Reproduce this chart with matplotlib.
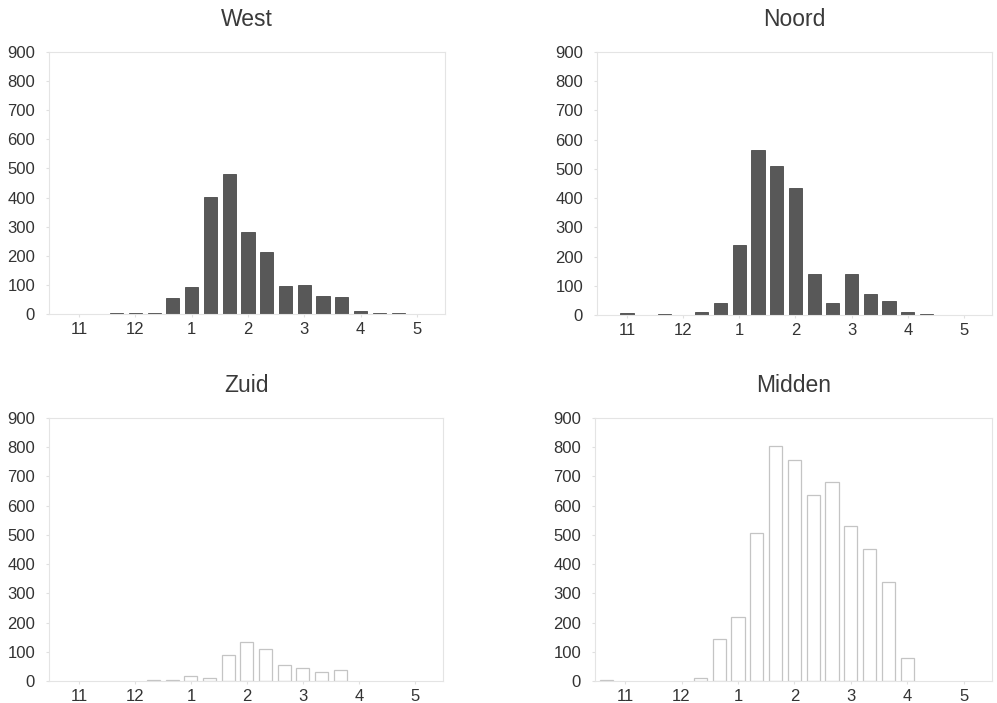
import numpy as np
import matplotlib
matplotlib.use("Agg")
import matplotlib.pyplot as plt

plt.rcParams['font.family'] = ['Liberation Sans', 'DejaVu Sans']

# decade index: 0 = first decade of november, 3 = december, ... 18 = may
decades = np.arange(-1, 19)
month_ticks = [0, 3, 6, 9, 12, 15, 18]
month_labels = ['11', '12', '1', '2', '3', '4', '5']

west = [0, 0, 0, 2, 4, 4, 55, 93, 403, 482, 280, 214, 97, 100, 62, 59, 11, 2, 2, 0]
noord = [0, 8, 0, 2, 0, 9, 40, 240, 566, 509, 433, 142, 42, 139, 71, 49, 9, 3, 0, 0]
zuid = [0, 0, 0, 0, 0, 2, 4, 18, 11, 90, 132, 109, 56, 43, 32, 39, 0, 0, 0, 0]
midden = [3, 0, 0, 0, 0, 10, 144, 220, 506, 803, 755, 638, 682, 532, 452, 340, 77, 0, 0, 0]

W, H = 997, 703
fig = plt.figure(figsize=(W / 100, H / 100), dpi=100)

panels = [
    ('West', west, [49, 52, 445, 314], True),
    ('Noord', noord, [597, 52, 992, 315], True),
    ('Zuid', zuid, [49, 418, 443, 681], False),
    ('Midden', midden, [595, 418, 992, 681], False),
]

for title, vals, (x0, y0, x1, y1), filled in panels:
    ax = fig.add_axes([x0 / W, 1 - y1 / H, (x1 - x0) / W, (y1 - y0) / H])
    vals = np.array(vals)
    mask = vals > 0
    if filled:
        ax.bar(decades[mask], vals[mask], width=0.7, color='#585858',
               edgecolor='#4a4a4a', linewidth=0.6)
    else:
        ax.bar(decades[mask], vals[mask], width=0.7, color='white',
               edgecolor='#c4c4c4', linewidth=0.9)
    ax.set_xlim(-1.6, 19.5)
    ax.set_ylim(0, 900)
    ax.set_yticks(range(0, 901, 100))
    ax.set_xticks(month_ticks)
    ax.set_xticklabels(month_labels)
    for s in ax.spines.values():
        s.set_color('#e4e4e4')
        s.set_linewidth(0.8)
    ax.tick_params(axis='both', length=2, color='#e0e0e0', labelsize=12,
                   labelcolor='#333333')
    ax.tick_params(axis='y', pad=8)
    ax.tick_params(axis='x', pad=4)
    ax.set_title(title, fontsize=16.5, color='#3a3a3a', pad=19)

fig.savefig('out.png', dpi=100)
